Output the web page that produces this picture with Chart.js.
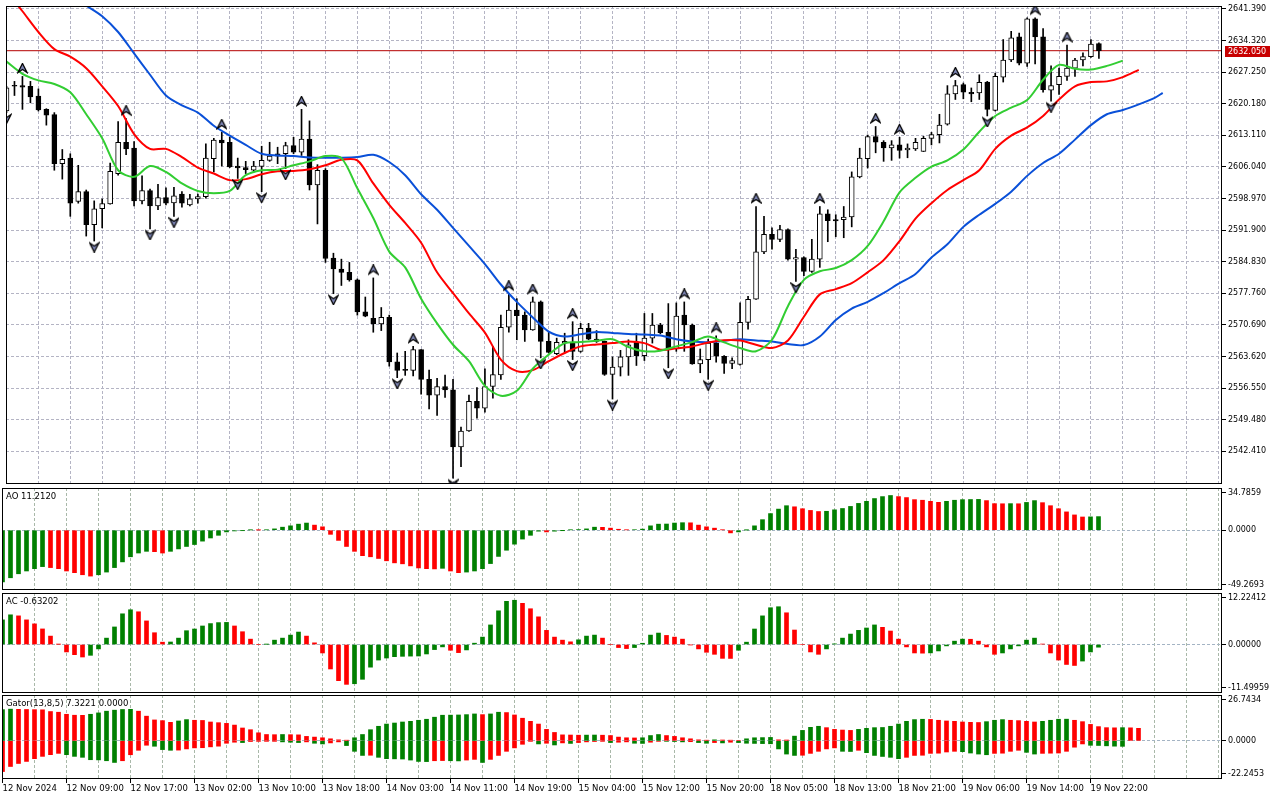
<!DOCTYPE html>
<html lang="en">
<head>
<meta charset="UTF-8" />
<title>XAUUSD,H1</title>
<script src="https://cdn.jsdelivr.net/npm/chart.js@4.4.1/dist/chart.umd.min.js"></script>
<style>
  body { margin: 0; background: #fff; }
  #wrap { position: relative; width: 1280px; height: 800px; overflow: hidden; background: #fff; }
  #wrap canvas { position: absolute; left: 0; }
</style>
</head>
<body>
<div id="wrap">
  <canvas id="mainChart" width="1280" height="490" style="top:0px"></canvas>
  <canvas id="aoChart" width="1280" height="110" style="top:484px"></canvas>
  <canvas id="acChart" width="1280" height="108" style="top:589px"></canvas>
  <canvas id="gatorChart" width="1280" height="109" style="top:691px"></canvas>
</div>
<script>
// ---- hourly candles, 12 Nov 01:00 .. 19 Nov 23:00 (index 0..137) ----
const open = [2618.56,2624.09,2624.24,2624.09,2621.88,2618.93,2617.75,2606.78,2608.03,2598.31,
  2600.52,2593.15,2596.69,2597.79,2604.57,2611.57,2610.24,2598.46,2600.74,2597.35,
  2599.19,2598.02,2600.0,2597.57,2598.9,2599.41,2607.88,2612.08,2611.57,2606.26,
  2605.9,2605.31,2606.19,2607.52,2608.99,2608.99,2610.83,2609.36,2612.3,2602.0,
  2605.31,2585.64,2583.21,2582.47,2580.78,2573.64,2572.16,2570.91,2572.39,2562.44,
  2560.6,2560.53,2565.17,2558.54,2555.0,2556.92,2556.18,2543.44,2546.98,2553.6,
  2552.06,2556.92,2559.5,2570.18,2574.0,2572.9,2569.59,2575.85,2567.01,2564.28,
  2566.64,2566.64,2564.8,2569.96,2567.52,2567.01,2559.64,2561.26,2563.55,2566.79,
  2563.84,2567.75,2570.69,2569.07,2565.32,2572.9,2570.69,2562.0,2562.96,2566.64,
  2563.69,2562.07,2561.85,2571.28,2576.44,2587.04,2590.95,2589.84,2592.05,2585.42,
  2585.79,2582.7,2585.42,2595.58,2594.26,2594.26,2594.85,2603.83,2607.88,2612.82,
  2611.57,2610.31,2610.98,2609.87,2610.09,2609.5,2612.45,2613.26,2615.62,2622.39,
  2624.46,2622.76,2622.62,2625.04,2618.71,2626.15,2629.98,2635.14,2629.24,2639.19,
  2635.14,2623.2,2624.46,2626.3,2628.14,2629.98,2630.72,2633.66];
const high = [2624.09,2625.19,2626.3,2625.19,2623.5,2619.08,2618.2,2609.95,2608.99,2606.41,
  2600.89,2598.46,2598.9,2606.93,2616.21,2616.87,2611.71,2604.05,2601.11,2602.14,
  2601.4,2601.48,2600.52,2599.93,2600.0,2611.2,2612.45,2613.78,2612.67,2608.03,
  2607.3,2607.3,2610.68,2611.57,2610.46,2611.57,2612.67,2618.93,2616.35,2606.56,
  2605.67,2586.75,2585.42,2584.69,2581.0,2576.95,2581.22,2574.6,2572.9,2564.43,
  2564.8,2565.9,2565.17,2560.6,2558.76,2559.5,2558.54,2547.86,2555.0,2556.7,
  2560.9,2565.9,2572.9,2577.69,2576.58,2573.64,2576.95,2576.07,2569.22,2567.75,
  2568.85,2571.43,2571.06,2571.06,2569.44,2567.1,2563.55,2565.02,2567.38,2568.85,
  2573.27,2573.27,2571.06,2575.48,2575.63,2575.85,2570.91,2565.32,2567.52,2568.26,
  2563.84,2563.33,2575.63,2577.1,2597.2,2595.0,2592.42,2593.01,2592.2,2587.63,
  2585.94,2589.84,2597.2,2596.47,2595.36,2597.2,2604.94,2610.24,2613.19,2615.1,
  2611.93,2611.93,2612.67,2611.2,2612.45,2612.89,2613.78,2617.83,2624.24,2625.41,
  2624.82,2623.72,2626.67,2625.19,2627.03,2634.55,2636.39,2636.02,2639.41,2639.41,
  2636.98,2628.65,2628.14,2633.29,2630.35,2631.6,2634.55,2633.81];
const low = [2618.2,2622.03,2618.93,2620.4,2618.56,2615.4,2605.31,2603.32,2595.0,2597.94,
  2590.58,2589.47,2592.42,2597.7,2604.2,2608.77,2597.35,2597.79,2592.2,2596.47,
  2597.57,2595.0,2597.06,2597.35,2597.94,2599.05,2604.94,2606.26,2605.9,2603.47,
  2604.57,2604.94,2600.52,2607.3,2606.78,2605.67,2608.99,2608.62,2600.89,2593.3,
  2584.69,2577.69,2579.53,2580.49,2572.9,2572.53,2569.07,2569.44,2561.48,2558.91,
  2559.42,2559.28,2555.23,2551.91,2550.44,2554.49,2536.44,2539.02,2546.9,2549.85,
  2551.17,2554.34,2558.54,2569.07,2567.38,2567.01,2569.5,2563.33,2564.43,2564.06,
  2564.43,2562.96,2564.58,2567.38,2566.79,2559.42,2554.12,2559.28,2559.42,2561.63,
  2562.74,2566.64,2568.7,2561.12,2564.8,2564.8,2561.9,2560.01,2558.54,2562.37,
  2559.86,2560.9,2561.7,2569.73,2576.4,2586.67,2587.63,2589.32,2585.2,2580.41,
  2581.74,2582.47,2583.58,2589.32,2590.43,2590.21,2592.64,2603.61,2605.82,2609.21,
  2607.3,2607.52,2608.03,2608.1,2609.73,2609.5,2610.98,2611.42,2615.4,2621.14,
  2621.29,2620.63,2621.14,2617.46,2618.56,2625.04,2629.61,2628.87,2628.51,2629.1,
  2622.76,2620.77,2622.25,2625.41,2626.3,2628.65,2630.57,2630.35];
const close = [2623.72,2624.09,2623.87,2621.73,2618.78,2617.61,2606.78,2607.74,2597.94,2600.52,
  2593.15,2596.69,2597.87,2605.09,2611.57,2610.09,2598.46,2600.74,2597.35,2599.19,
  2597.94,2599.56,2597.94,2598.9,2599.41,2608.03,2612.08,2611.42,2606.04,2605.82,
  2605.45,2606.26,2607.52,2608.47,2608.47,2610.83,2609.36,2612.3,2602.0,2605.31,
  2585.57,2583.21,2582.47,2580.78,2573.64,2572.68,2570.91,2572.39,2562.44,2560.53,
  2560.53,2565.17,2558.54,2555.0,2556.92,2556.18,2543.44,2546.98,2553.6,2552.06,
  2556.92,2559.57,2570.18,2574.0,2572.75,2569.59,2575.85,2567.01,2564.58,2566.79,
  2567.01,2564.8,2569.96,2567.52,2567.01,2559.64,2561.26,2563.55,2566.27,2563.84,
  2567.75,2570.69,2569.0,2565.32,2572.68,2570.69,2562.0,2562.96,2566.64,2563.69,
  2562.07,2562.74,2571.28,2576.44,2587.04,2590.95,2589.84,2592.05,2585.42,2585.79,
  2582.7,2585.42,2595.58,2594.04,2593.96,2594.85,2603.83,2608.03,2612.82,2611.57,
  2610.31,2610.98,2609.73,2610.24,2611.57,2612.45,2613.26,2615.4,2622.39,2624.24,
  2622.76,2622.39,2624.97,2618.93,2626.3,2629.98,2634.91,2629.24,2639.19,2635.14,
  2623.35,2624.24,2626.3,2628.14,2629.98,2630.72,2633.51,2632.05];
const lastPrice = 2632.05;

// fractal bars (up = above high, down = below low)
const fractalUp = [2,15,27,37,46,51,63,66,71,85,89,94,102,109,112,119,129,133];
const fractalDown = [0,11,18,21,29,32,35,41,49,56,67,71,76,83,88,99,123,131];

// alligator lines read every second bar
const jawX = range(10, 144, 2).concat([145]);
const jaw = [2642.13,2639.77,2636.24,2631.45,2626.67,2622.03,2619.82,2618.2,2615.25,2613.04,
  2610.98,2608.99,2608.62,2608.47,2608.18,2608.1,2608.1,2608.25,2608.77,2607.15,
  2604.2,2599.93,2596.47,2592.42,2588.37,2584.32,2579.75,2575.85,2572.39,2569.22,
  2568.11,2568.63,2569.14,2568.92,2568.7,2568.56,2568.33,2567.52,2567.01,2566.86,
  2567.16,2567.52,2567.23,2567.01,2566.42,2566.2,2568.11,2571.8,2574.37,2575.85,
  2577.84,2580.05,2582.11,2585.79,2588.74,2592.64,2595.36,2597.79,2600.52,2604.05,
  2606.93,2608.99,2612.16,2615.4,2617.83,2618.78,2620.04,2621.51,2622.61];
const teethX = [1].concat(range(2, 142, 2));
const teeth = [2643.1,2640.88,2636.24,2632.41,2630.72,2628.14,2624.09,2619.67,2613.41,2610.09,2610.09,
  2608.25,2605.9,2604.57,2603.1,2603.32,2604.42,2605.09,2605.16,2605.53,2606.41,
  2607.66,2607.52,2602.36,2597.57,2593.52,2589.1,2582.47,2577.83,2573.27,2568.99,
  2562.96,2560.38,2560.6,2562.59,2564.43,2565.9,2566.35,2566.64,2567.01,2566.64,
  2565.17,2565.46,2565.9,2566.79,2567.3,2567.23,2566.27,2565.54,2567.23,2572.53,
  2577.54,2578.72,2580.05,2582.47,2585.2,2589.47,2594.48,2597.94,2600.89,2603.1,
  2605.31,2610.09,2613.04,2614.88,2617.46,2621.14,2624.09,2625.04,2625.19,2626.15,
  2627.77];
const lipsX = range(0, 140, 2);
const lips = [2629.61,2626.89,2625.41,2624.6,2622.76,2617.83,2612.45,2605.31,2603.83,2606.26,
  2604.94,2602.36,2600.67,2600.15,2600.67,2604.2,2605.31,2605.45,2606.41,2607.3,
  2608.47,2608.03,2601.26,2594.63,2587.11,2583.58,2576.58,2571.06,2566.27,2562.59,
  2557.07,2554.86,2555.96,2560.9,2564.06,2566.64,2566.86,2567.16,2567.52,2565.76,
  2564.8,2564.95,2565.9,2566.86,2568.11,2566.79,2565.54,2564.8,2567.38,2574.9,
  2580.78,2582.7,2583.43,2585.2,2588.37,2593.89,2600.37,2603.61,2606.12,2607.52,
  2609.95,2613.92,2617.46,2619.3,2621.0,2625.56,2628.87,2627.99,2627.84,2628.65,
  2629.83];

// oscillators, one value per bar
const ao = [-42.6,-39.2,-35.9,-33.6,-31.7,-30.0,-30.8,-31.7,-33.6,-35.0,
  -36.7,-37.8,-36.7,-34.5,-30.8,-26.1,-21.9,-18.8,-17.4,-17.7,
  -18.8,-17.4,-15.4,-13.4,-11.8,-9.0,-6.4,-4.2,-1.4,-0.6,
  -0.2,0.2,0.1,0.3,1.1,2.5,3.6,5.0,5.9,4.2,
  2.8,-3.4,-8.4,-13.4,-17.4,-21.0,-21.9,-23.3,-25.2,-26.9,
  -27.7,-29.4,-31.1,-31.7,-31.9,-31.4,-33.6,-35.0,-34.5,-33.6,
  -31.7,-27.5,-21.6,-16.5,-11.5,-7.3,-4.2,-0.8,-1.4,-0.8,
  -0.1,0.3,0.5,1.1,2.5,2.4,1.7,0.8,0.3,0.4,
  0.9,3.6,5.0,5.1,5.9,6.2,6.1,4.2,2.8,1.7,
  0.3,-2.2,-1.4,0.1,3.6,8.7,13.7,17.4,20.2,19.3,
  17.7,16.3,15.4,15.6,16.8,17.9,19.6,22.1,23.8,26.1,
  27.7,28.6,27.7,26.9,25.2,24.7,23.8,23.0,23.8,24.7,
  25.2,25.3,25.4,24.4,21.9,21.8,21.9,21.8,22.9,24.4,
  22.7,20.2,17.7,15.1,12.6,10.9,11.0,11.212];
const ac = [5.85,7.05,6.8,5.85,4.9,3.7,2.0,0.05,-1.76,-2.4,
  -2.96,-2.56,-1.04,1.52,4.17,7.29,8.25,7.77,5.6,2.8,
  0.56,0.6,1.52,3.28,3.68,4.4,4.97,5.2,5.25,4.4,
  3.04,1.28,0.0,0.05,1.04,1.52,2.24,2.96,2.0,0.4,
  -2.0,-5.8,-8.57,-9.45,-9.3,-8.25,-5.37,-3.68,-3.2,-2.88,
  -2.8,-2.75,-2.72,-2.24,-1.2,-0.56,-1.36,-1.92,-1.28,0.32,
  1.76,4.65,8.0,10.25,10.5,9.77,8.49,6.57,3.36,1.76,
  1.04,0.64,1.12,2.0,2.24,1.52,0.0,-0.72,-0.96,-0.72,
  0.3,2.24,2.72,2.16,1.76,1.28,-0.08,-1.04,-1.84,-2.32,
  -3.28,-3.3,-1.36,0.56,3.68,6.8,8.73,8.97,7.53,3.44,
  0.0,-1.76,-2.32,-1.04,0.16,1.52,2.48,3.36,3.92,4.65,
  4.08,3.2,1.28,-0.56,-2.0,-2.05,-1.98,-1.52,-0.32,0.8,
  1.28,1.25,0.8,-0.56,-2.32,-2.0,-1.04,-0.32,1.04,1.52,
  0.1,-2.0,-3.68,-4.73,-4.97,-3.92,-1.76,-0.63202];
const gatorUp = [18.2,18.5,18.4,18.3,18.2,18.1,17.1,16.7,15.5,14.95,
  14.9,15.5,16.3,17.3,17.9,18.3,18.4,17.3,14.4,12.2,
  11.8,10.8,11.6,12.4,12.0,11.9,11.0,10.6,10.2,9.2,
  7.5,6.5,4.7,3.7,3.6,3.7,3.6,3.5,2.6,2.2,
  1.8,1.2,0.6,0.4,1.8,3.7,6.5,8.5,9.8,10.4,
  11.0,11.4,12.0,12.6,13.8,14.95,15.0,15.1,15.3,15.7,
  15.3,15.7,16.7,16.5,15.1,13.2,11.4,9.8,6.7,4.9,
  3.5,3.4,3.3,3.35,3.4,3.3,3.1,2.2,1.8,1.7,
  1.8,3.1,3.7,3.1,2.6,1.8,1.2,0.6,0.4,0.6,
  0.5,0.4,0.3,1.2,1.8,1.9,2.0,0.6,0.5,2.75,
  6.1,7.9,8.5,7.7,6.7,6.3,6.1,6.7,7.3,7.7,
  7.8,8.5,9.8,11.4,12.4,12.6,12.5,12.0,11.6,11.4,
  11.0,10.8,10.7,11.2,12.0,12.4,12.0,11.8,11.4,11.0,
  11.4,12.0,12.6,12.65,12.0,11.2,9.6,8.3,7.7,7.6,
  7.7,7.6,7.3221];
const gatorDown = [-17.9,-14.95,-13.2,-12.0,-10.4,-9.05,-8.07,-7.3,-8.07,-9.05,
  -9.6,-11.0,-11.1,-11.6,-12.6,-11.6,-8.1,-5.5,-2.56,-3.15,
  -5.1,-5.5,-5.4,-4.7,-4.1,-4.0,-3.5,-3.1,-1.4,-0.8,
  -1.0,-0.4,-0.2,-0.15,-0.1,-0.6,-0.8,-1.0,-0.6,-1.4,
  -1.8,-1.2,-0.6,-2.75,-6.1,-8.5,-8.4,-9.6,-10.4,-10.5,
  -10.6,-11.2,-12.0,-12.1,-11.6,-11.5,-11.6,-11.7,-11.2,-10.8,
  -12.6,-10.8,-8.5,-6.1,-4.1,-2.0,-0.2,-1.8,-1.4,-2.4,
  -1.2,-1.5,-1.0,-0.6,-0.4,-0.2,-1.0,-0.8,-0.6,-1.4,
  -1.5,-0.8,-0.2,-0.3,-0.4,-0.6,-0.5,-1.0,-1.4,-1.0,
  -1.2,-0.8,-1.0,-1.4,-1.5,-1.6,-1.7,-4.7,-7.7,-8.5,
  -8.4,-7.3,-6.1,-4.7,-4.1,-6.1,-6.2,-5.5,-6.9,-8.5,
  -9.1,-9.6,-10.4,-9.6,-8.5,-8.4,-7.3,-7.2,-6.5,-6.1,
  -6.3,-7.1,-7.7,-8.1,-7.3,-7.2,-6.1,-5.5,-6.7,-7.7,
  -7.3,-7.2,-7.1,-6.1,-3.7,-1.8,-2.6,-2.7,-2.9,-3.1,
  -3.2];

// axis ticks
const priceTicks = [2641.390,2634.320,2627.250,2620.180,2613.110,2606.040,2598.970,2591.900,
  2584.830,2577.760,2570.690,2563.620,2556.550,2549.480,2542.410];
const aoTicks = [34.7859, 0, -49.2693];
const acTicks = [12.22412, 0, -11.49959];
const gatorTicks = [26.7434, 0, -22.2453];
const xLabelIdx = [0,8,16,24,32,40,48,56,64,72,80,88,96,104,112,120,128,136];
const xLabels = ['12 Nov 2024','12 Nov 09:00','12 Nov 17:00','13 Nov 02:00','13 Nov 10:00',
  '13 Nov 18:00','14 Nov 03:00','14 Nov 11:00','14 Nov 19:00','15 Nov 04:00','15 Nov 12:00',
  '15 Nov 20:00','18 Nov 05:00','18 Nov 13:00','18 Nov 21:00','19 Nov 06:00','19 Nov 14:00',
  '19 Nov 22:00'];
const gridIdx = range(0, 152, 4);

// ---- layout / styling ----
const X_MIN = -0.0625, X_MAX = 152.4375;   // bar i sits at 2.5 + 8*i px
const FONT = { family: 'DejaVu Sans', size: 8 };
const FONT_TXT = { family: 'DejaVu Sans', size: 8.5 };
const GREEN = '#008000', RED = '#ff0000';
const MAIN_GRID = '#b4b4c4', SUB_GRID = '#a9b8a9', ZERO_GRID = '#a4b4c4';
const NONE = 'rgba(0,0,0,0)';

function range(a, b, step) {
  const r = [];
  for (let v = a; v <= b; v += step) r.push(v);
  return r;
}
function pts(xs, ys) {
  const n = Math.min(xs.length, ys.length);
  const out = [];
  for (let k = 0; k < n; k++) out.push({ x: xs[k], y: ys[k] });
  return out;
}
function barPts(vals) { return vals.map((v, i) => ({ x: i, y: v })); }
function riseColors(vals, first, byMagnitude) {
  return vals.map((v, i) => {
    if (i === 0) return first;
    const a = byMagnitude ? Math.abs(v) : v;
    const b = byMagnitude ? Math.abs(vals[i - 1]) : vals[i - 1];
    return a > b ? GREEN : RED;
  });
}

function arrowIcon(up) {
  const c = document.createElement('canvas');
  c.width = 11;
  c.height = up ? 27 : 23;
  const g = c.getContext('2d');
  g.translate(1, up ? 0.5 : c.height - 9.5);
  g.beginPath();
  if (up) { g.moveTo(4.5, 0); g.lineTo(9, 9); g.lineTo(4.5, 6); g.lineTo(0, 9); }
  else { g.moveTo(4.5, 9); g.lineTo(9, 0); g.lineTo(4.5, 3); g.lineTo(0, 0); }
  g.closePath();
  g.fillStyle = '#8088b8';
  g.fill();
  g.strokeStyle = '#000';
  g.lineWidth = 1.3;
  g.stroke();
  return c;
}

// frame, pane caption and price tag
const paneDecor = {
  id: 'paneDecor',
  afterDraw(chart, args, opts) {
    const { ctx, chartArea: a } = chart;
    ctx.save();
    ctx.strokeStyle = '#000';
    ctx.lineWidth = 1;
    ctx.strokeRect(Math.round(a.left) + 0.5, Math.round(a.top) + 0.5,
      Math.round(a.right - a.left) - 1, Math.round(a.bottom - a.top) - 1);
    if (opts.caption) {
      ctx.font = FONT_TXT.size + 'px ' + FONT_TXT.family;
      ctx.fillStyle = '#000';
      ctx.textBaseline = 'top';
      ctx.textAlign = 'left';
      ctx.fillText(opts.caption, a.left + 4, a.top + 5);
    }
    if (opts.tag !== undefined) {
      const y = chart.scales.y.getPixelForValue(opts.tag);
      ctx.font = FONT.size + 'px ' + FONT.family;
      ctx.fillStyle = '#c80000';
      ctx.fillRect(a.right + 3, Math.round(y) - 5, 45, 11);
      ctx.fillStyle = '#fff';
      ctx.textBaseline = 'middle';
      ctx.fillText(opts.tag.toFixed(3), a.right + 6, Math.round(y) + 0.5);
    }
    ctx.restore();
  }
};

function xAxis(withLabels, gridColor) {
  return {
    type: 'linear', min: X_MIN, max: X_MAX, offset: false,
    afterBuildTicks: s => { s.ticks = gridIdx.map(v => ({ value: v })); },
    afterFit: s => { s.height = withLabels ? 21 : 0; s.paddingLeft = 0; s.paddingRight = 0; },
    ticks: {
      display: withLabels, autoSkip: false, maxRotation: 0, minRotation: 0,
      align: 'start', padding: 1, color: '#000', font: FONT_TXT,
      callback: v => { const k = xLabelIdx.indexOf(v); return k < 0 ? '' : xLabels[k]; }
    },
    grid: {
      offset: false, color: gridColor, lineWidth: 1, drawTicks: withLabels, tickLength: 4,
      tickColor: c => (c.tick && xLabelIdx.includes(c.tick.value)) ? '#000' : NONE,
      tickBorderDash: []
    },
    border: { display: false, dash: [3, 2] }
  };
}

// paneH > 0: oscillator pane, the top and bottom labels sit just inside the frame
function yAxis(min, max, tickVals, decimals, paneH) {
  const perPx = (max - min) / (paneH || 1);
  const place = v => {
    if (!paneH) return v;
    if (v === max) return max - 4.5 * perPx;
    if (v === min) return min + 5.5 * perPx;
    return v;
  };
  return {
    position: 'right', min: min, max: max,
    afterBuildTicks: s => { s.ticks = tickVals.map(v => ({ value: place(v) })); },
    afterFit: s => { s.width = 58; s.paddingTop = 0; s.paddingBottom = 0; },
    ticks: {
      autoSkip: false, padding: 2, color: '#000', font: FONT,
      callback: (v, i) => tickVals[i].toFixed(decimals)
    },
    grid: {
      color: paneH ? (c => (c.tick && c.tick.value === 0) ? ZERO_GRID : NONE) : MAIN_GRID,
      lineWidth: 1, tickLength: 4, tickColor: '#000', tickBorderDash: []
    },
    border: { display: false, dash: [3, 2] }
  };
}

function baseOptions(padTop, padBottom, decor) {
  return {
    responsive: false, animation: false, devicePixelRatio: 1, events: [],
    layout: { padding: { left: 2, right: 0, top: padTop, bottom: padBottom } },
    plugins: { legend: { display: false }, tooltip: { enabled: false }, paneDecor: decor }
  };
}

// ---- main price pane ----
const idx = open.map((_, i) => i);
const mainOpts = baseOptions(2, 4, { tag: lastPrice });
mainOpts.scales = { x: xAxis(false, MAIN_GRID), y: yAxis(2535.118, 2642.053, priceTicks, 3, 0) };

new Chart(document.getElementById('mainChart'), {
  type: 'bar',
  data: {
    datasets: [
      { type: 'line', data: [{ x: X_MIN, y: lastPrice }, { x: X_MAX, y: lastPrice }],
        borderColor: '#b40000', borderWidth: 1, pointRadius: 0, order: 8 },
      { type: 'bar', data: idx.map(i => ({ x: i, y: [low[i], high[i]] })),
        backgroundColor: '#000', barThickness: 1, grouped: false, order: 7 },
      { type: 'bar', data: idx.map(i => ({ x: i, y: [open[i], close[i]] })),
        backgroundColor: idx.map(i => close[i] > open[i] ? '#fff' : '#000'),
        borderColor: '#000', borderWidth: 1, borderSkipped: false,
        barThickness: 5, minBarLength: 1, grouped: false, order: 6 },
      { type: 'line', data: pts(jawX, jaw), borderColor: '#0a50d8', borderWidth: 2,
        pointRadius: 0, tension: 0.3, order: 4 },
      { type: 'line', data: pts(teethX, teeth), borderColor: '#ff0000', borderWidth: 2,
        pointRadius: 0, tension: 0.3, order: 3 },
      { type: 'line', data: pts(lipsX, lips), borderColor: '#32cd32', borderWidth: 2,
        pointRadius: 0, tension: 0.3, order: 2 },
      { type: 'line', showLine: false, data: fractalUp.map(i => ({ x: i, y: high[i] })),
        pointStyle: arrowIcon(true), pointRadius: 5, order: 1 },
      { type: 'line', showLine: false, data: fractalDown.map(i => ({ x: i, y: low[i] })),
        pointStyle: arrowIcon(false), pointRadius: 5, order: 1 }
    ]
  },
  options: mainOpts,
  plugins: [paneDecor]
});

// ---- Awesome Oscillator ----
const aoOpts = baseOptions(4, 4, { caption: 'AO ' + ao[ao.length - 1].toFixed(4) });
aoOpts.scales = { x: xAxis(false, SUB_GRID), y: yAxis(-49.2693, 34.7859, aoTicks, 4, 102) };
new Chart(document.getElementById('aoChart'), {
  type: 'bar',
  data: { datasets: [{ data: barPts(ao), backgroundColor: riseColors(ao, GREEN, false), barThickness: 4 }] },
  options: aoOpts,
  plugins: [paneDecor]
});

// ---- Accelerator Oscillator ----
const acOpts = baseOptions(4, 4, { caption: 'AC ' + ac[ac.length - 1].toFixed(5) });
acOpts.scales = { x: xAxis(false, SUB_GRID), y: yAxis(-11.49959, 12.22412, acTicks, 5, 100) };
new Chart(document.getElementById('acChart'), {
  type: 'bar',
  data: { datasets: [{ data: barPts(ac), backgroundColor: riseColors(ac, GREEN, false), barThickness: 4 }] },
  options: acOpts,
  plugins: [paneDecor]
});

// ---- Gator Oscillator ----
const gatorOpts = baseOptions(4, 0, {
  caption: 'Gator(13,8,5) ' + gatorUp[gatorUp.length - 1].toFixed(4) + ' 0.0000'
});
gatorOpts.scales = { x: xAxis(true, SUB_GRID), y: yAxis(-22.2453, 26.7434, gatorTicks, 4, 84) };
new Chart(document.getElementById('gatorChart'), {
  type: 'bar',
  data: {
    datasets: [
      { data: barPts(gatorUp), backgroundColor: riseColors(gatorUp, GREEN, true), barThickness: 4, grouped: false },
      { data: barPts(gatorDown), backgroundColor: riseColors(gatorDown, RED, true), barThickness: 4, grouped: false }
    ]
  },
  options: gatorOpts,
  plugins: [paneDecor]
});
</script>
</body>
</html>
